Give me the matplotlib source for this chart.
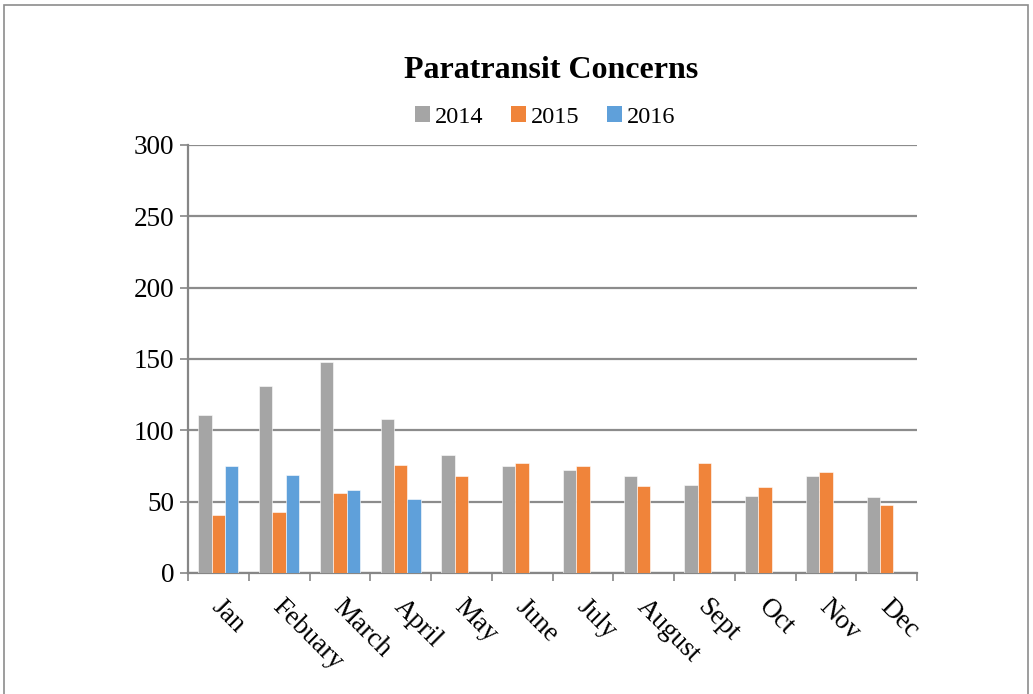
import matplotlib
matplotlib.use("Agg")
import matplotlib.pyplot as plt
import numpy as np
from matplotlib.patches import Rectangle, Patch

months = ["Jan", "Febuary", "March", "April", "May", "June", "July",
          "August", "Sept", "Oct", "Nov", "Dec"]
y2014 = [111, 131, 148, 108, 83, 75, 72, 68, 62, 54, 68, 53]
y2015 = [41, 43, 56, 76, 68, 77, 75, 61, 77, 60, 71, 48]
y2016 = [75, 69, 58, 52, np.nan, np.nan, np.nan, np.nan, np.nan, np.nan, np.nan, np.nan]
series_names = ["2014", "2015", "2016"]
colors = ["#A5A5A5", "#F0843A", "#5FA0DA"]

plt.rcParams['font.family'] = ['Liberation Serif', 'DejaVu Serif']

W, H = 1033, 694
fig = plt.figure(figsize=(W / 100, H / 100), dpi=100)
ax = fig.add_axes([188 / W, 1 - 573 / H, (917 - 188) / W, (573 - 145) / H])

x = np.arange(len(months))
bw = 0.22
for i, (vals, c) in enumerate(zip([y2014, y2015, y2016], colors)):
    ax.bar(x + (i - 1) * bw, vals, width=bw, color=c, zorder=3,
           edgecolor="white", linewidth=0.4)

ax.set_xlim(-0.5, len(months) - 0.5)
ax.set_ylim(0, 300)
ax.set_yticks(np.arange(0, 301, 50))
ax.tick_params(axis='y', labelsize=19.5, length=6, width=1.2, color="#868686", pad=4)
ax.yaxis.grid(True, color="#8C8C8C", linewidth=1.6, zorder=0)
ax.set_axisbelow(True)

ax.set_xticks(np.arange(-0.5, len(months) + 0.5, 1.0))
ax.set_xticklabels([])
ax.tick_params(axis='x', length=6, width=1.2, color="#868686")
for xi, lab in zip(x, months):
    ax.text(xi - 0.05, -0.07, lab, transform=ax.get_xaxis_transform(),
            rotation=-45, rotation_mode='anchor', ha='left', va='center',
            fontsize=19.5)

for s in ["top", "right"]:
    ax.spines[s].set_visible(False)
ax.spines["left"].set_color("#868686")
ax.spines["left"].set_linewidth(1.6)
ax.spines["bottom"].set_color("#868686")
ax.spines["bottom"].set_linewidth(1.6)

fig.text(551 / W, 1 - 70 / H, "Paratransit Concerns", ha='center', va='center',
         fontsize=23, fontweight='bold')

handles = [Patch(facecolor=c, edgecolor='none') for c in colors]
fig.legend(handles, series_names, loc='center', bbox_to_anchor=(545 / W, 1 - 117 / H),
           ncol=3, frameon=False, fontsize=17.5, handlelength=0.6, handleheight=0.6,
           handletextpad=0.2, columnspacing=1.15)

fig.patches.append(Rectangle((4 / W, -0.01), (1028 - 4) / W, 1 - 5 / H + 0.01,
                             transform=fig.transFigure, fill=False,
                             edgecolor="#8C8C8C", linewidth=1.2))

fig.savefig("out.png", dpi=100)
